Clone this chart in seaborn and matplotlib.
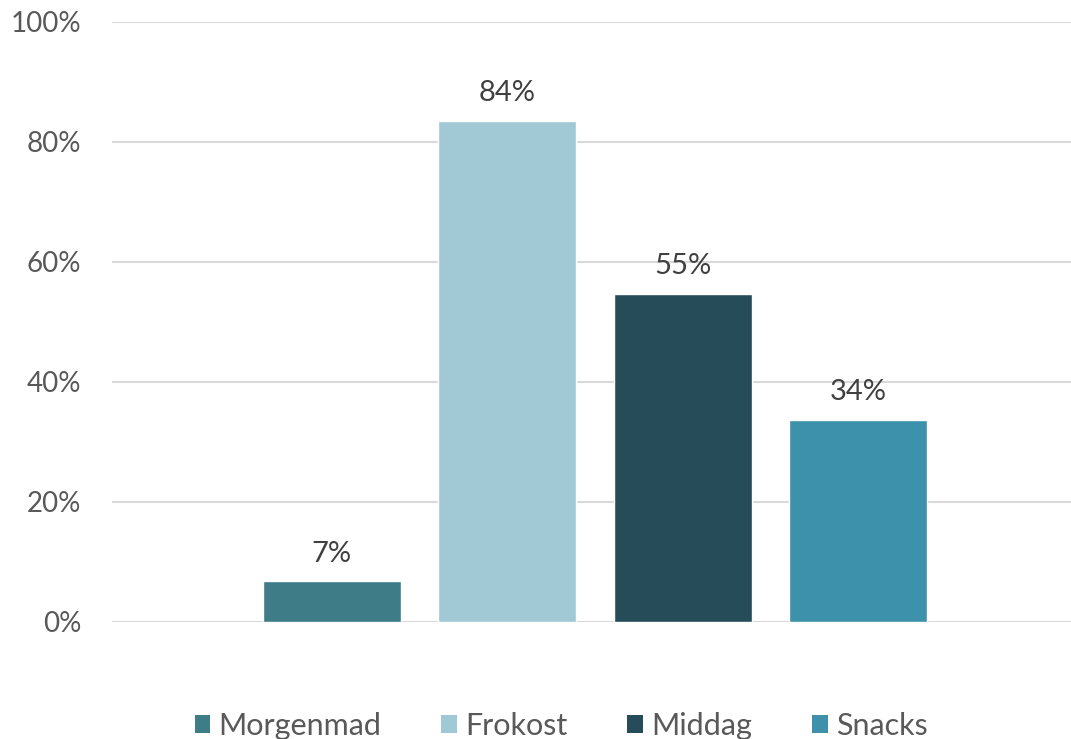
import numpy as np
import pandas as pd
import seaborn as sns
import matplotlib.pyplot as plt
from matplotlib.ticker import FuncFormatter
from matplotlib.patches import Patch

meals = ['Morgenmad', 'Frokost', 'Middag', 'Snacks']
shares = [0.068, 0.835, 0.547, 0.337]
colors = ['#3E7C87', '#A0C8D5', '#274C59', '#3E91AA']
y_ticks = [0, 0.2, 0.4, 0.6, 0.8, 1.0]

df = pd.DataFrame({'group': [''] * len(meals), 'meal': meals, 'share': shares})

sns.set_style('white')
plt.rcParams['font.family'] = ['Lato', 'DejaVu Sans']

fig = plt.figure(figsize=(10.71, 7.39), dpi=100)
ax = fig.add_axes([112 / 1071, 1 - 622 / 739, (1078 - 112) / 1071, 600 / 739])

sns.barplot(data=df, x='group', y='share', hue='meal', palette=colors,
            width=0.727, gap=0.214, saturation=1, legend=False, ax=ax)

for cont in ax.containers:
    ax.bar_label(cont, labels=[f'{v * 100:.0f}%' for v in cont.datavalues],
                 padding=10.5, fontsize=21, color='#404040')

ax.set_ylim(0, 1.0)
ax.set_xlim(-0.5, 0.5)
ax.set_yticks(y_ticks)
ax.yaxis.set_major_formatter(FuncFormatter(lambda v, _: f'{v * 100:.0f}%'))
ax.tick_params(axis='y', length=0, pad=22, labelsize=20, labelcolor='#595959')
ax.set_xticks([])
ax.set_xlabel('')
ax.set_ylabel('')
for s in ax.spines.values():
    s.set_visible(False)
ax.grid(axis='y', color='#D9D9D9', linewidth=1.5)
ax.set_axisbelow(True)

handles = [Patch(facecolor=c, edgecolor='none') for c in colors]
fig.legend(handles, meals, loc='center', bbox_to_anchor=(561 / 1071, 1 - 726 / 739),
           ncol=4, frameon=False, fontsize=22, labelcolor='#595959',
           handlelength=0.52, handleheight=0.52, handletextpad=0.26,
           columnspacing=1.96)

plt.savefig('out.png', dpi=100)
